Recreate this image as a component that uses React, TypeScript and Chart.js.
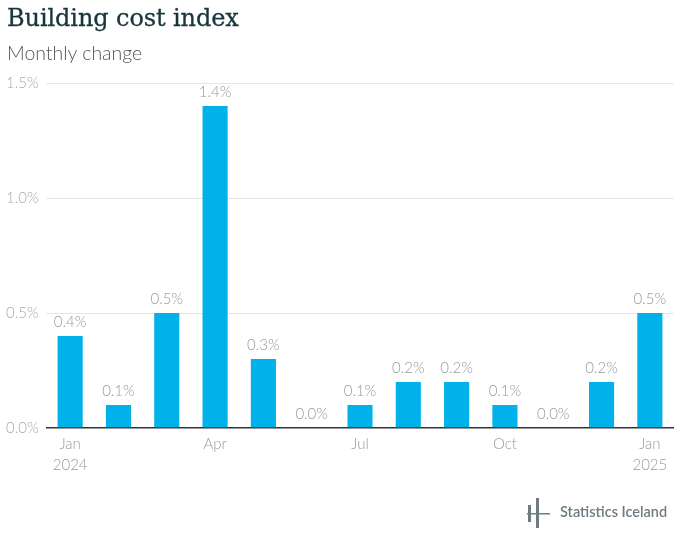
import React, { useEffect, useRef } from "react";
import { Chart, registerables } from "chart.js";

Chart.register(...registerables);

const categories: (string | string[])[] = [
  ["Jan", "2024"], "", "", "Apr", "", "", "Jul", "", "", "Oct", "", "", ["Jan", "2025"],
];
const monthlyChange: number[] = [0.4, 0.1, 0.5, 1.4, 0.3, 0.0, 0.1, 0.2, 0.2, 0.1, 0.0, 0.2, 0.5];
const yTicks: number[] = [0, 0.5, 1.0, 1.5];

const BAR_COLOR = "#00b2e9";
const LABEL_COLOR = "#999999";
const FONT = "Lato, 'Noto Sans', sans-serif";

const valueLabels = {
  id: "valueLabels",
  afterDatasetsDraw(chart: any) {
    const ctx = chart.ctx;
    const meta = chart.getDatasetMeta(0);
    const data = chart.data.datasets[0].data as number[];
    ctx.save();
    ctx.font = `300 15px ${FONT}`;
    ctx.fillStyle = LABEL_COLOR;
    ctx.textAlign = "center";
    ctx.textBaseline = "bottom";
    meta.data.forEach((el: any, i: number) => {
      ctx.fillText(data[i].toFixed(1) + "%", el.x, el.y - 6);
    });
    ctx.restore();
  },
};

export default function App() {
  const ref = useRef<HTMLCanvasElement>(null);

  useEffect(() => {
    if (!ref.current) return;
    const chart = new Chart(ref.current, {
      type: "bar",
      data: {
        labels: categories,
        datasets: [
          {
            data: monthlyChange,
            backgroundColor: BAR_COLOR,
            barPercentage: 1,
            categoryPercentage: 0.52,
          },
        ],
      },
      options: {
        animation: false,
        responsive: false,
        maintainAspectRatio: false,
        layout: { padding: { left: 6, right: 6, top: 83, bottom: 63 } },
        plugins: {
          legend: { display: false },
          tooltip: { enabled: false },
          title: { display: false },
        },
        scales: {
          x: {
            grid: { display: false, drawTicks: false },
            border: { display: false },
            ticks: {
              autoSkip: false,
              maxRotation: 0,
              color: "#999999",
              padding: 6,
              font: { family: FONT, size: 15, weight: "300" as any, lineHeight: 1.4 },
            },
            afterFit: (s: any) => {
              s.height = 50;
            },
          },
          y: {
            min: 0,
            max: 1.5,
            afterBuildTicks: (s: any) => {
              s.ticks = yTicks.map((v) => ({ value: v }));
            },
            grid: {
              drawTicks: false,
              color: (c: any) => (c.tick && c.tick.value === 0 ? "#333333" : "#e6e6e6"),
              lineWidth: (c: any) => (c.tick && c.tick.value === 0 ? 1.6 : 1),
            },
            border: { display: false },
            ticks: {
              color: "#aaaaaa",
              crossAlign: "far",
              padding: 8,
              font: { family: FONT, size: 15, weight: "300" as any },
              callback: (v: any) => Number(v).toFixed(1) + "%",
            },
            afterFit: (s: any) => {
              s.width = 40;
            },
          },
        },
      },
      plugins: [valueLabels],
    });
    return () => chart.destroy();
  }, []);

  return (
    <div
      style={{
        position: "fixed",
        left: 0,
        top: 0,
        width: 680,
        height: 541,
        background: "#ffffff",
        overflow: "hidden",
      }}
    >
      <canvas ref={ref} width={680} height={541} style={{ position: "absolute", left: 0, top: 0, width: 680, height: 541 }} />
      <div
        style={{
          position: "absolute",
          left: 7,
          top: 4,
          fontFamily: "'DejaVu Serif', serif",
          fontSize: 24,
          color: "#17353c",
          whiteSpace: "nowrap",
          letterSpacing: -0.1,
          WebkitTextStroke: "0.3px #17353c",
        }}
      >
        Building cost index
      </div>
      <div
        style={{
          position: "absolute",
          left: 7,
          top: 41,
          fontFamily: FONT,
          fontSize: 19.5,
          fontWeight: 300,
          color: "#555555",
          whiteSpace: "nowrap",
        }}
      >
        Monthly change
      </div>
      <svg
        style={{ position: "absolute", left: 526, top: 497 }}
        width={25}
        height={32}
        viewBox="0 0 25 32"
      >
        <rect x={2} y={8} width={3} height={17} fill="#6e7c82" />
        <rect x={10} y={1} width={3} height={30} fill="#6e7c82" />
        <rect x={1} y={16} width={23} height={1.5} fill="#6e7c82" />
      </svg>
      <div
        style={{
          position: "absolute",
          left: 560,
          top: 503,
          fontFamily: FONT,
          fontSize: 14.5,
          fontWeight: 600,
          color: "#6e7c82",
          whiteSpace: "nowrap",
        }}
      >
        Statistics Iceland
      </div>
    </div>
  );
}
